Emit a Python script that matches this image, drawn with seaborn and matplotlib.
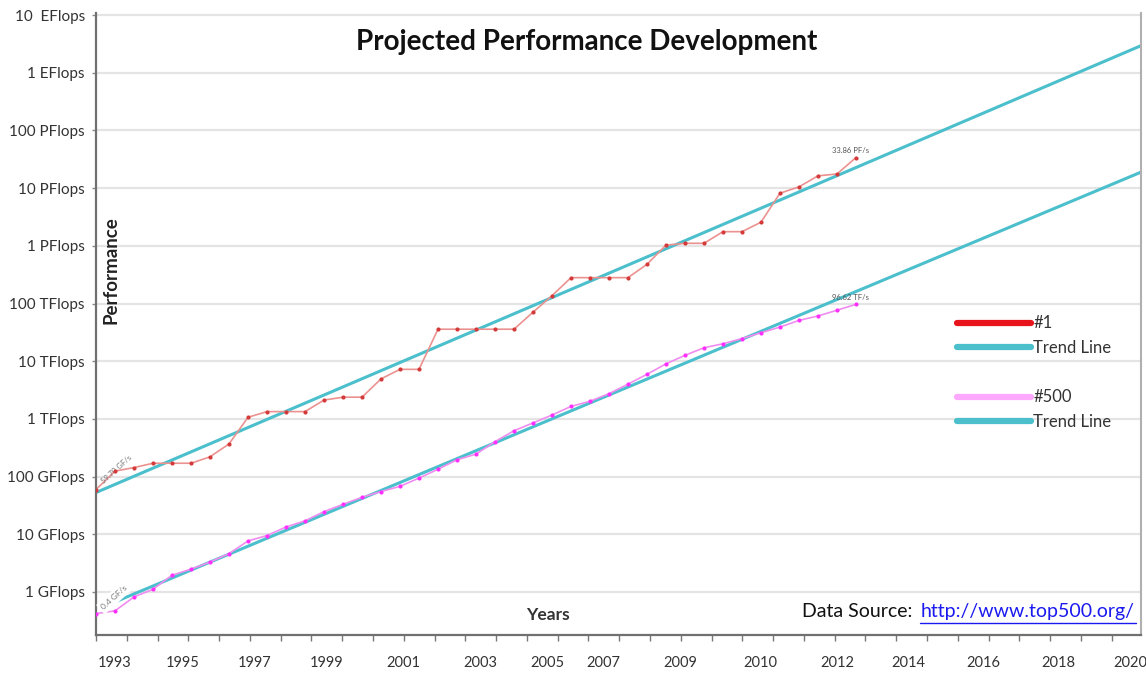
import numpy as np
import pandas as pd
import matplotlib
matplotlib.use("Agg")
import matplotlib.pyplot as plt
from matplotlib.lines import Line2D
from matplotlib.ticker import FixedLocator, NullFormatter
import seaborn as sns

# TOP500 lists, June and November editions, June 1993 .. June 2013 (Flop/s)
years = [1993, 1993, 1994, 1994, 1995, 1995, 1996, 1996, 1997, 1997,
         1998, 1998, 1999, 1999, 2000, 2000, 2001, 2001, 2002, 2002,
         2003, 2003, 2004, 2004, 2005, 2005, 2006, 2006, 2007, 2007,
         2008, 2008, 2009, 2009, 2010, 2010, 2011, 2011, 2012, 2012, 2013]
edition = ["06", "11"] * 20 + ["06"]

n1_gflops = [59.7, 124.5, 143.4, 170.4, 170.4, 170.4, 220.4, 368.2, 1068, 1338,
             1338, 1338, 2121, 2379, 2379, 4938, 7226, 7226, 35860, 35860,
             35860, 35860, 35860, 70720, 136800, 280600, 280600, 280600, 280600, 478200,
             1026000, 1105000, 1105000, 1759000, 1759000, 2566000, 8162000, 10510000,
             16320000, 17590000, 33860000]

n500_gflops = [0.422, 0.472, 0.822, 1.114, 1.956, 2.489, 3.306, 4.620, 7.680, 9.513,
               13.39, 17.12, 24.73, 33.08, 43.82, 55.10, 67.78, 94.30, 134.3, 195.8,
               245.1, 403.4, 624.0, 850.6, 1166, 1646, 2026, 2737, 4005, 5929,
               9000, 12640, 17090, 20050, 24670, 31120, 39090, 50940, 60820, 76500,
               96620]

trend_x = [1993.0, 2020.5]
trend1_flops = [5.3e10, 2.94e18]
trend500_x = [1993.37, 2020.5]
trend500_flops = [6.2e8, 1.89e16]

ytick_vals = [1e9, 1e10, 1e11, 1e12, 1e13, 1e14, 1e15, 1e16, 1e17, 1e18, 1e19]
ytick_labels = ["1 GFlops", "10 GFlops", "100 GFlops", "1 TFlops", "10 TFlops",
                "100 TFlops", "1 PFlops", "10 PFlops", "100 PFlops", "1 EFlops", "10  EFlops"]

xtick_labels = ["1993", "1995", "1997", "1999", "2001", "2003", "2005", "2007",
                "2009", "2010", "2012", "2014", "2016", "2018", "2020"]
xtick_pos = [1993.5, 1995.29, 1997.18, 1999.08, 2001.08, 2003.11, 2004.87, 2006.34,
             2008.37, 2010.47, 2012.5, 2014.37, 2016.34, 2018.32, 2020.21]

df = pd.DataFrame({
    "t": [y + (0.0 if e == "06" else 0.5) for y, e in zip(years, edition)],
    "n1": np.array(n1_gflops) * 1e9,
    "n500": np.array(n500_gflops) * 1e9,
})

sns.set_style("white")
plt.rcParams["font.family"] = ["Lato", "DejaVu Sans"]

fig = plt.figure(figsize=(11.46, 6.74), dpi=100)
ax = fig.add_axes([0.0838, 0.0579, 0.9118, 0.9228])

cyan = "#4bbfcc"
sns.lineplot(x=trend_x, y=trend1_flops, ax=ax, color=cyan, lw=2.2)
sns.lineplot(x=trend500_x, y=trend500_flops, ax=ax, color=cyan, lw=2.2)

sns.lineplot(data=df, x="t", y="n1", ax=ax, color="#eb9290", lw=1.2)
sns.scatterplot(data=df, x="t", y="n1", ax=ax, color="#d43a3a", s=9, linewidth=0, zorder=4)
sns.lineplot(data=df, x="t", y="n500", ax=ax, color="#f08cf0", lw=1.2)
sns.scatterplot(data=df, x="t", y="n500", ax=ax, color="#ff30ff", s=9, linewidth=0, zorder=4)

ax.set_yscale("log")
ax.set_ylim(10 ** 8.255, 10 ** 19.035)
ax.set_xlim(1993.0, 2020.5)

ax.set_yticks(ytick_vals)
ax.set_yticklabels(ytick_labels, fontsize=11, color="#333333")
ax.yaxis.set_minor_locator(FixedLocator([]))
ax.grid(axis="y", color="#e4e4e4", lw=1.6)
ax.tick_params(axis="y", length=3, width=1, color="#888888", left=True, pad=5)

ax.set_xticks(xtick_pos)
ax.set_xticklabels(xtick_labels, fontsize=10.5, color="#333333")
ax.tick_params(axis="x", which="major", length=0, pad=15)
ax.xaxis.set_minor_locator(FixedLocator(np.arange(1993.0, 2020.6, 0.81)))
ax.xaxis.set_minor_formatter(NullFormatter())
ax.tick_params(axis="x", which="minor", length=4, width=1, color="#777777", bottom=True, direction="out")

ax.set_xlabel("")
ax.set_ylabel("")
for side in ["left", "bottom"]:
    ax.spines[side].set_color("#707070")
    ax.spines[side].set_linewidth(1.6)
ax.spines["right"].set_color("#b0b0b0")
ax.spines["right"].set_linewidth(1.5)
ax.spines["top"].set_visible(False)

ax.text(0.470, 0.954, "Projected Performance Development", transform=ax.transAxes,
        fontsize=20, fontweight="bold", color="#111111", ha="center", va="center")
ax.text(0.0145, 0.587, "Performance", transform=ax.transAxes, rotation=90,
        fontsize=13.5, fontweight="bold", color="#222222", ha="center", va="center")
ax.text(0.432, 0.032, "Years", transform=ax.transAxes,
        fontsize=12.5, fontweight="bold", color="#333333", ha="center", va="center")

ax.text(0.676, 0.038, "Data Source:", transform=ax.transAxes, fontsize=14,
        color="#111111", ha="left", va="center")
ax.text(0.789, 0.038, "http://www.top500.org/", transform=ax.transAxes, fontsize=14,
        color="#1a1aee", ha="left", va="center")
ax.plot([0.789, 0.995], [0.019, 0.019], transform=ax.transAxes, color="#1a1aee", lw=1)

ax.annotate("59.70 GF/s", (df["t"].iloc[0], df["n1"].iloc[0]), xytext=(3, 4),
            textcoords="offset points", fontsize=5.5, color="#777777", rotation=42)
ax.annotate("0.4 GF/s", (df["t"].iloc[0], df["n500"].iloc[0]), xytext=(3, 3),
            textcoords="offset points", fontsize=6, color="#777777", rotation=42, zorder=6,
            bbox=dict(boxstyle="square,pad=0.35", fc="white", ec="none"))
ax.annotate("33.86 PF/s", (df["t"].iloc[-1], df["n1"].iloc[-1]), xytext=(-17, 3),
            textcoords="offset points", fontsize=5.5, color="#555555")
ax.annotate("96.62 TF/s", (df["t"].iloc[-1], df["n500"].iloc[-1]), xytext=(-17, 3),
            textcoords="offset points", fontsize=5.5, color="#555555")

handles = [
    Line2D([], [], color="#e8141c", lw=4.5, solid_capstyle="round"),
    Line2D([], [], color=cyan, lw=4.5, solid_capstyle="round"),
    Line2D([], [], color="none"),
    Line2D([], [], color="#ffa8ff", lw=4.5, solid_capstyle="round"),
    Line2D([], [], color=cyan, lw=4.5, solid_capstyle="round"),
]
labels = ["#1", "Trend Line", "", "#500", "Trend Line"]
leg = ax.legend(handles, labels, loc="upper left", bbox_to_anchor=(0.81, 0.538),
                frameon=False, fontsize=12, handlelength=4.4, handletextpad=0.15,
                labelspacing=0.52)
for t in leg.get_texts():
    t.set_color("#333333")

fig.savefig("out.png", dpi=100)
